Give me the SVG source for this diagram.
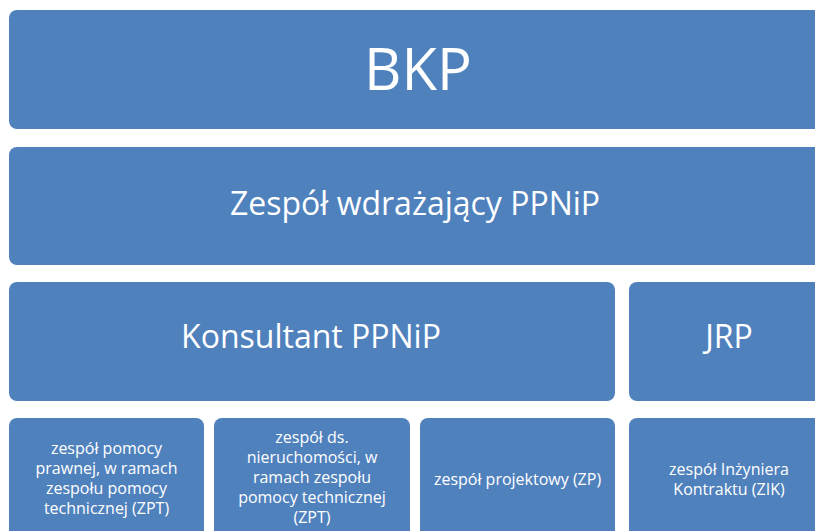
<svg xmlns="http://www.w3.org/2000/svg" width="815" height="531" viewBox="0 0 815 531">
<style>
.box{fill:#4F81BD;}
.t{fill:#FFFFFF;font-family:"Open Sans","Noto Sans","DejaVu Sans",sans-serif;text-anchor:middle;}
.s{font-size:16px;}
.m{font-size:32px;}
</style>
<rect width="815" height="531" fill="#FFFFFF"/>
<g id="connectors"></g>
<g id="bkp">
<rect class="box" x="9" y="10" width="820" height="119" rx="8"/>
<text class="t" x="418" y="90" font-size="58">BKP</text>
</g>
<g id="zespol-wdrazajacy">
<rect class="box" x="9" y="147" width="820" height="118" rx="8"/>
<text class="t m" x="415" y="215">Zespół wdrażający PPNiP</text>
</g>
<g id="konsultant">
<rect class="box" x="9" y="282" width="606" height="119" rx="8"/>
<text class="t m" x="311" y="348">Konsultant PPNiP</text>
</g>
<g id="jrp">
<rect class="box" x="629" y="282" width="200" height="119" rx="8"/>
<text class="t m" x="729" y="348">JRP</text>
</g>
<g id="zpt-prawna">
<rect class="box" x="9" y="418" width="195" height="130" rx="8"/>
<text class="t s" x="106.5" y="454">zespół pomocy</text>
<text class="t s" x="106.5" y="474">prawnej, w ramach</text>
<text class="t s" x="106.5" y="494">zespołu pomocy</text>
<text class="t s" x="106.5" y="514">technicznej (ZPT)</text>
</g>
<g id="zpt-nieruchomosci">
<rect class="box" x="214" y="418" width="196" height="130" rx="8"/>
<text class="t s" x="312" y="443">zespół ds.</text>
<text class="t s" x="312" y="463">nieruchomości, w</text>
<text class="t s" x="312" y="483">ramach zespołu</text>
<text class="t s" x="312" y="503">pomocy technicznej</text>
<text class="t s" x="312" y="523">(ZPT)</text>
</g>
<g id="zp">
<rect class="box" x="420" y="418" width="195" height="130" rx="8"/>
<text class="t s" x="517.5" y="485">zespół projektowy (ZP)</text>
</g>
<g id="zik">
<rect class="box" x="629" y="418" width="200" height="130" rx="8"/>
<text class="t s" x="729" y="475">zespół Inżyniera</text>
<text class="t s" x="729" y="495">Kontraktu (ZIK)</text>
</g>
</svg>
